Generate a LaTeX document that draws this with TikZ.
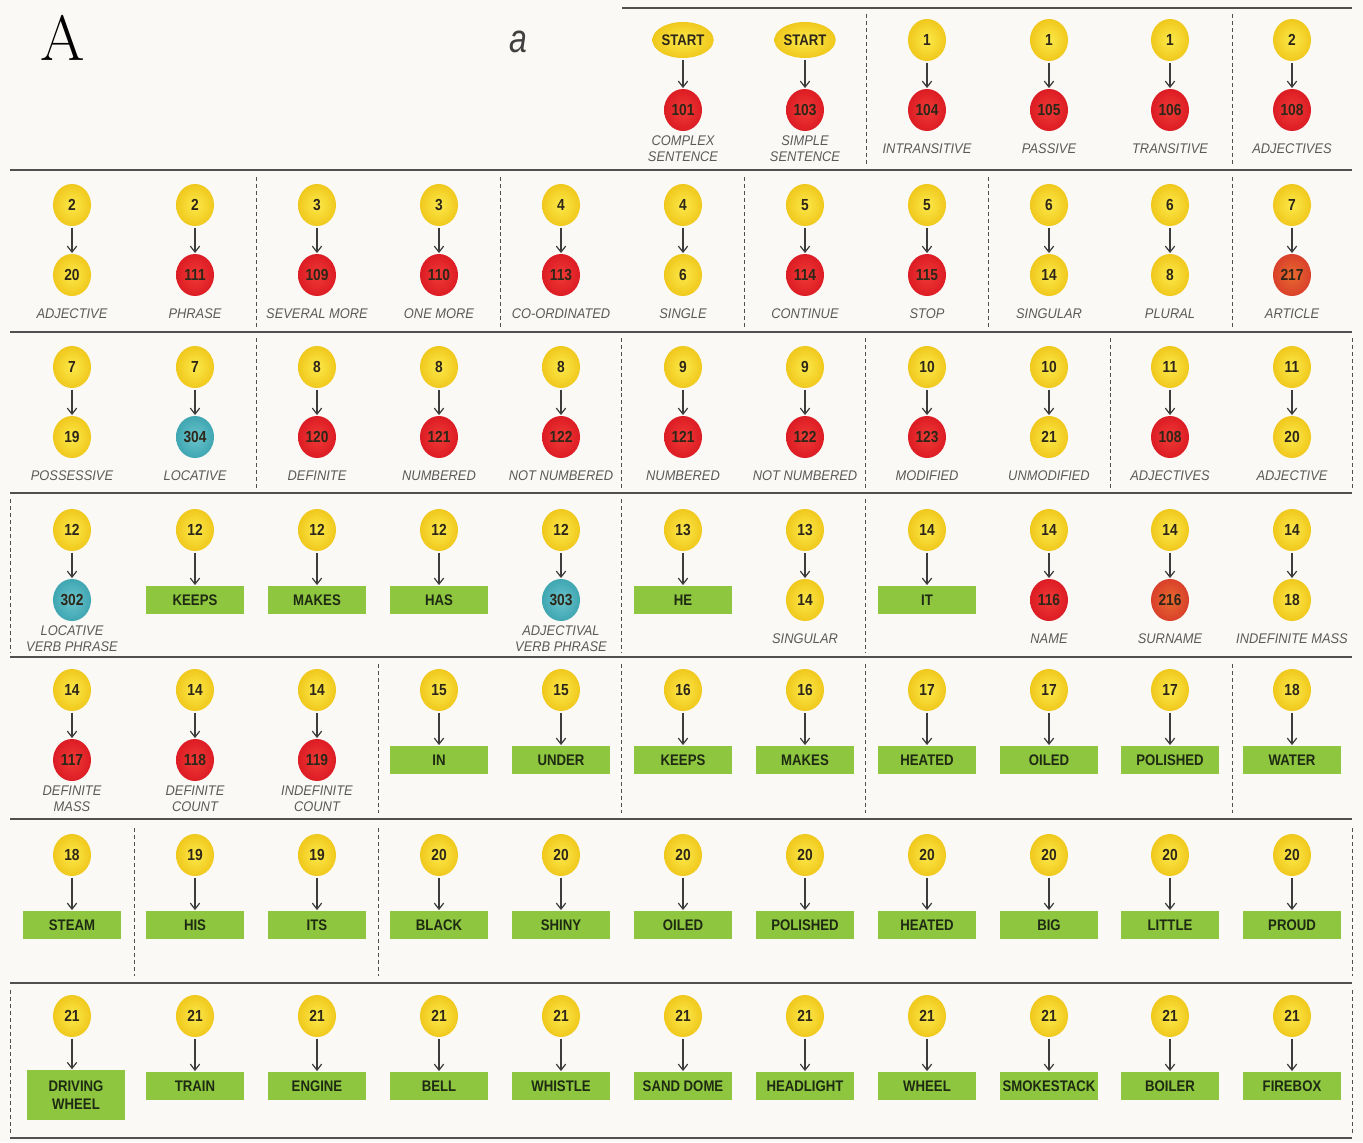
\documentclass[tikz,border=0pt]{standalone}
\usepackage{fontspec}
\newfontfamily\sans{Liberation Sans}
\newfontfamily\numfont[FakeStretch=0.86]{Liberation Sans}
\newfontfamily\lblfont[FakeStretch=0.92]{Liberation Sans}
\usetikzlibrary{shapes.geometric,arrows.meta}
\definecolor{bg}{HTML}{FAF9F5}
\definecolor{ylwin}{HTML}{FCE94A}
\definecolor{ylwout}{HTML}{F0C81C}
\definecolor{redin}{HTML}{F03A36}
\definecolor{redout}{HTML}{DC1C24}
\definecolor{tealin}{HTML}{6BC4CC}
\definecolor{tealout}{HTML}{3FA6B2}
\definecolor{orgin}{HTML}{E86A30}
\definecolor{orgout}{HTML}{D9402A}
\definecolor{grn}{HTML}{8EC63F}
\definecolor{gtxt}{HTML}{1E2A12}
\definecolor{ntxt}{HTML}{2E2618}
\definecolor{lblc}{HTML}{5A5A5A}
\definecolor{arrc}{HTML}{3C3C3C}
\definecolor{linec}{HTML}{505050}
\tikzset{
  ball/.style={ellipse, minimum width=28.5pt, minimum height=31.5pt, inner sep=0pt,
    font=\numfont\bfseries\fontsize{12}{13}\selectfont, text=ntxt},
  ycirc/.style={ball, inner color=ylwin, outer color=ylwout},
  rcirc/.style={ball, inner color=redin, outer color=redout},
  tcirc/.style={ball, inner color=tealin, outer color=tealout},
  ocirc/.style={ball, inner color=orgin, outer color=orgout},
  startel/.style={ellipse, minimum width=46pt, minimum height=27pt, inner sep=0pt,
    inner color=ylwin, outer color=ylwout,
    font=\numfont\bfseries\fontsize{11.5}{12}\selectfont, text=ntxt},
  gbox/.style={rectangle, fill=grn, minimum width=73.5pt, minimum height=21pt, inner sep=1pt,
    align=center, font=\numfont\bfseries\fontsize{11.5}{14}\selectfont, text=gtxt},
  lbl/.style={inner sep=0pt, align=center, text=lblc,
    font=\lblfont\itshape\fontsize{10.5}{12}\selectfont},
  arr/.style={draw=arrc, line width=0.9pt, shorten <=1pt, shorten >=0.5pt,
    -{Straight Barb[length=4.5pt,width=7pt]}},
  hline/.style={draw=linec, line width=1.5pt},
  vdash/.style={draw=linec, line width=0.7pt, dash pattern=on 3pt off 2.2pt},
}
\newcommand{\mkpair}[8]{%
  \node[#4] (#1t) at (#2,#3) {#5};
  \node[#6] (#1b) at (#2,#3+70) {#7};
  \draw[arr] (#1t) -- (#1b);
  \node[lbl] (#1l) at (#2,#3+109) {#8};}
\newcommand{\mkword}[5]{%
  \node[ycirc] (#1t) at (#2,#3) {#4};
  \node[gbox] (#1b) at (#2,#3+70) {#5};
  \draw[arr] (#1t) -- (#1b);}
\begin{document}
\begin{tikzpicture}[x=0.75pt,y=-0.75pt]
\fill[bg] (0,0) rectangle (1363,1142);
\useasboundingbox (0,0) rectangle (1363,1142);
% titles
\node (bigA) at (63,38) {\fontsize{48}{48}\selectfont A};
\node (smalla) at (518,42) {\scalebox{0.8}[1]{\sans\itshape\fontsize{30}{30}\selectfont\color{black!75}a}};
% horizontal rules
\draw[hline] (622,8) -- (1352,8);
\foreach \yy in {170,332,493,657,819,983,1138}{\draw[hline] (10,\yy) -- (1352,\yy);}
% vertical dashed separators
\foreach \xx in {866,1232}{\draw[vdash] (\xx,14) -- (\xx,166);}
\foreach \xx in {256,500,744,988,1232}{\draw[vdash] (\xx,177) -- (\xx,328);}
\foreach \xx in {256,621,865,1110,1352}{\draw[vdash] (\xx,338) -- (\xx,488);}
\foreach \xx in {10,621,865}{\draw[vdash] (\xx,499) -- (\xx,652);}
\foreach \xx in {378,621,865,1232}{\draw[vdash] (\xx,664) -- (\xx,813);}
\foreach \xx in {134,378,1352}{\draw[vdash] (\xx,828) -- (\xx,976);}
\foreach \xx in {10,1352}{\draw[vdash] (\xx,990) -- (\xx,1134);}
% row 0
\mkpair{a1}{683}{40}{startel}{START}{rcirc}{101}{COMPLEX\\SENTENCE}
\mkpair{a2}{805}{40}{startel}{START}{rcirc}{103}{SIMPLE\\SENTENCE}
\mkpair{a3}{927}{40}{ycirc}{1}{rcirc}{104}{INTRANSITIVE}
\mkpair{a4}{1049}{40}{ycirc}{1}{rcirc}{105}{PASSIVE}
\mkpair{a5}{1170}{40}{ycirc}{1}{rcirc}{106}{TRANSITIVE}
\mkpair{a6}{1292}{40}{ycirc}{2}{rcirc}{108}{ADJECTIVES}
% row 1
\mkpair{b1}{72}{205}{ycirc}{2}{ycirc}{20}{ADJECTIVE}
\mkpair{b2}{195}{205}{ycirc}{2}{rcirc}{111}{PHRASE}
\mkpair{b3}{317}{205}{ycirc}{3}{rcirc}{109}{SEVERAL MORE}
\mkpair{b4}{439}{205}{ycirc}{3}{rcirc}{110}{ONE MORE}
\mkpair{b5}{561}{205}{ycirc}{4}{rcirc}{113}{CO-ORDINATED}
\mkpair{b6}{683}{205}{ycirc}{4}{ycirc}{6}{SINGLE}
\mkpair{b7}{805}{205}{ycirc}{5}{rcirc}{114}{CONTINUE}
\mkpair{b8}{927}{205}{ycirc}{5}{rcirc}{115}{STOP}
\mkpair{b9}{1049}{205}{ycirc}{6}{ycirc}{14}{SINGULAR}
\mkpair{b10}{1170}{205}{ycirc}{6}{ycirc}{8}{PLURAL}
\mkpair{b11}{1292}{205}{ycirc}{7}{ocirc}{217}{ARTICLE}
% row 2
\mkpair{c1}{72}{367}{ycirc}{7}{ycirc}{19}{POSSESSIVE}
\mkpair{c2}{195}{367}{ycirc}{7}{tcirc}{304}{LOCATIVE}
\mkpair{c3}{317}{367}{ycirc}{8}{rcirc}{120}{DEFINITE}
\mkpair{c4}{439}{367}{ycirc}{8}{rcirc}{121}{NUMBERED}
\mkpair{c5}{561}{367}{ycirc}{8}{rcirc}{122}{NOT NUMBERED}
\mkpair{c6}{683}{367}{ycirc}{9}{rcirc}{121}{NUMBERED}
\mkpair{c7}{805}{367}{ycirc}{9}{rcirc}{122}{NOT NUMBERED}
\mkpair{c8}{927}{367}{ycirc}{10}{rcirc}{123}{MODIFIED}
\mkpair{c9}{1049}{367}{ycirc}{10}{ycirc}{21}{UNMODIFIED}
\mkpair{c10}{1170}{367}{ycirc}{11}{rcirc}{108}{ADJECTIVES}
\mkpair{c11}{1292}{367}{ycirc}{11}{ycirc}{20}{ADJECTIVE}
% row 3
\mkpair{d1}{72}{530}{ycirc}{12}{tcirc}{302}{LOCATIVE\\VERB PHRASE}
\mkword{d2}{195}{530}{12}{KEEPS}
\mkword{d3}{317}{530}{12}{MAKES}
\mkword{d4}{439}{530}{12}{HAS}
\mkpair{d5}{561}{530}{ycirc}{12}{tcirc}{303}{ADJECTIVAL\\VERB PHRASE}
\mkword{d6}{683}{530}{13}{HE}
\mkpair{d7}{805}{530}{ycirc}{13}{ycirc}{14}{SINGULAR}
\mkword{d8}{927}{530}{14}{IT}
\mkpair{d9}{1049}{530}{ycirc}{14}{rcirc}{116}{NAME}
\mkpair{d10}{1170}{530}{ycirc}{14}{ocirc}{216}{SURNAME}
\mkpair{d11}{1292}{530}{ycirc}{14}{ycirc}{18}{INDEFINITE MASS}
% row 4
\mkpair{e1}{72}{690}{ycirc}{14}{rcirc}{117}{DEFINITE\\MASS}
\mkpair{e2}{195}{690}{ycirc}{14}{rcirc}{118}{DEFINITE\\COUNT}
\mkpair{e3}{317}{690}{ycirc}{14}{rcirc}{119}{INDEFINITE\\COUNT}
\mkword{e4}{439}{690}{15}{IN}
\mkword{e5}{561}{690}{15}{UNDER}
\mkword{e6}{683}{690}{16}{KEEPS}
\mkword{e7}{805}{690}{16}{MAKES}
\mkword{e8}{927}{690}{17}{HEATED}
\mkword{e9}{1049}{690}{17}{OILED}
\mkword{e10}{1170}{690}{17}{POLISHED}
\mkword{e11}{1292}{690}{18}{WATER}
% row 5
\mkword{f1}{72}{855}{18}{STEAM}
\mkword{f2}{195}{855}{19}{HIS}
\mkword{f3}{317}{855}{19}{ITS}
\mkword{f4}{439}{855}{20}{BLACK}
\mkword{f5}{561}{855}{20}{SHINY}
\mkword{f6}{683}{855}{20}{OILED}
\mkword{f7}{805}{855}{20}{POLISHED}
\mkword{f8}{927}{855}{20}{HEATED}
\mkword{f9}{1049}{855}{20}{BIG}
\mkword{f10}{1170}{855}{20}{LITTLE}
\mkword{f11}{1292}{855}{20}{PROUD}
% row 6
\node[ycirc] (g1t) at (72,1016) {21};
\node[gbox, anchor=north, minimum height=37.5pt] (g1b) at (76,1070) {DRIVING\\WHEEL};
\draw[arr] (g1t) -- (g1t |- g1b.north);
\mkword{g2}{195}{1016}{21}{TRAIN}
\mkword{g3}{317}{1016}{21}{ENGINE}
\mkword{g4}{439}{1016}{21}{BELL}
\mkword{g5}{561}{1016}{21}{WHISTLE}
\mkword{g6}{683}{1016}{21}{SAND DOME}
\mkword{g7}{805}{1016}{21}{HEADLIGHT}
\mkword{g8}{927}{1016}{21}{WHEEL}
\mkword{g9}{1049}{1016}{21}{SMOKESTACK}
\mkword{g10}{1170}{1016}{21}{BOILER}
\mkword{g11}{1292}{1016}{21}{FIREBOX}
\end{tikzpicture}
\end{document}
